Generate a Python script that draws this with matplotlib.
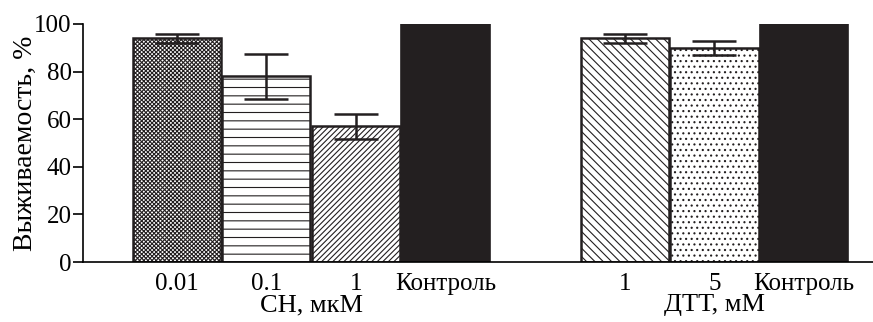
import matplotlib
matplotlib.use('Agg')
import matplotlib.pyplot as plt

# survival, % of control
ch_labels = ['0.01', '0.1', '1', 'Контроль']
ch_values = [94, 78, 57, 100]
ch_errors = [2, 9.6, 5.3, 0]

dtt_labels = ['1', '5', 'Контроль']
dtt_values = [94, 90, 100]
dtt_errors = [2, 3, 0]

ch_pos = [0, 1, 2, 3]
dtt_pos = [5, 6, 7]

hatches = ['xxxxxxxx', '--', '//////', None, '\\\\\\\\', '...', None]

plt.rc('font', family='Liberation Serif')
plt.rcParams['hatch.linewidth'] = 0.8

fig = plt.figure(figsize=(8.73, 3.22), dpi=100)
ax = fig.add_axes([0.095, 0.186, 0.905, 0.7395])

positions = ch_pos + dtt_pos
values = ch_values + dtt_values
errors = ch_errors + dtt_errors

for i, (x, v, e) in enumerate(zip(positions, values, errors)):
    if hatches[i] is None:
        ax.bar(x, v, width=0.985, color='#231f20', edgecolor='#231f20', linewidth=1.2)
    else:
        ax.bar(x, v, width=0.985, color='white', edgecolor='#231f20',
               hatch=hatches[i], linewidth=1.8)
    if e > 0:
        ax.errorbar(x, v, yerr=e, color='#231f20', capsize=16, capthick=1.8,
                    elinewidth=1.8, fmt='none')

ax.set_xlim(-1.046, 7.77)
ax.set_ylim(0, 100)
ax.set_yticks([0, 20, 40, 60, 80, 100])
ax.set_xticks(positions)
ax.set_xticklabels(ch_labels + dtt_labels)
ax.tick_params(axis='x', length=0, labelsize=18, pad=8)
ax.tick_params(axis='y', direction='out', length=7, width=1.2, labelsize=18, pad=1)

for s in ['top', 'right']:
    ax.spines[s].set_visible(False)
ax.spines['left'].set_linewidth(1.2)
ax.spines['bottom'].set_linewidth(1.2)

ax.set_ylabel('Выживаемость, %', fontsize=20, va='center')
ax.yaxis.set_label_coords(-0.073, 0.5)

# group captions under the category labels
ax.text(sum(ch_pos) / len(ch_pos), -0.18, 'СН, мкМ', transform=ax.get_xaxis_transform(),
        ha='center', va='center', fontsize=19)
ax.text(sum(dtt_pos) / len(dtt_pos), -0.18, 'ДТТ, мМ', transform=ax.get_xaxis_transform(),
        ha='center', va='center', fontsize=19)

plt.savefig('out.png', dpi=100)
